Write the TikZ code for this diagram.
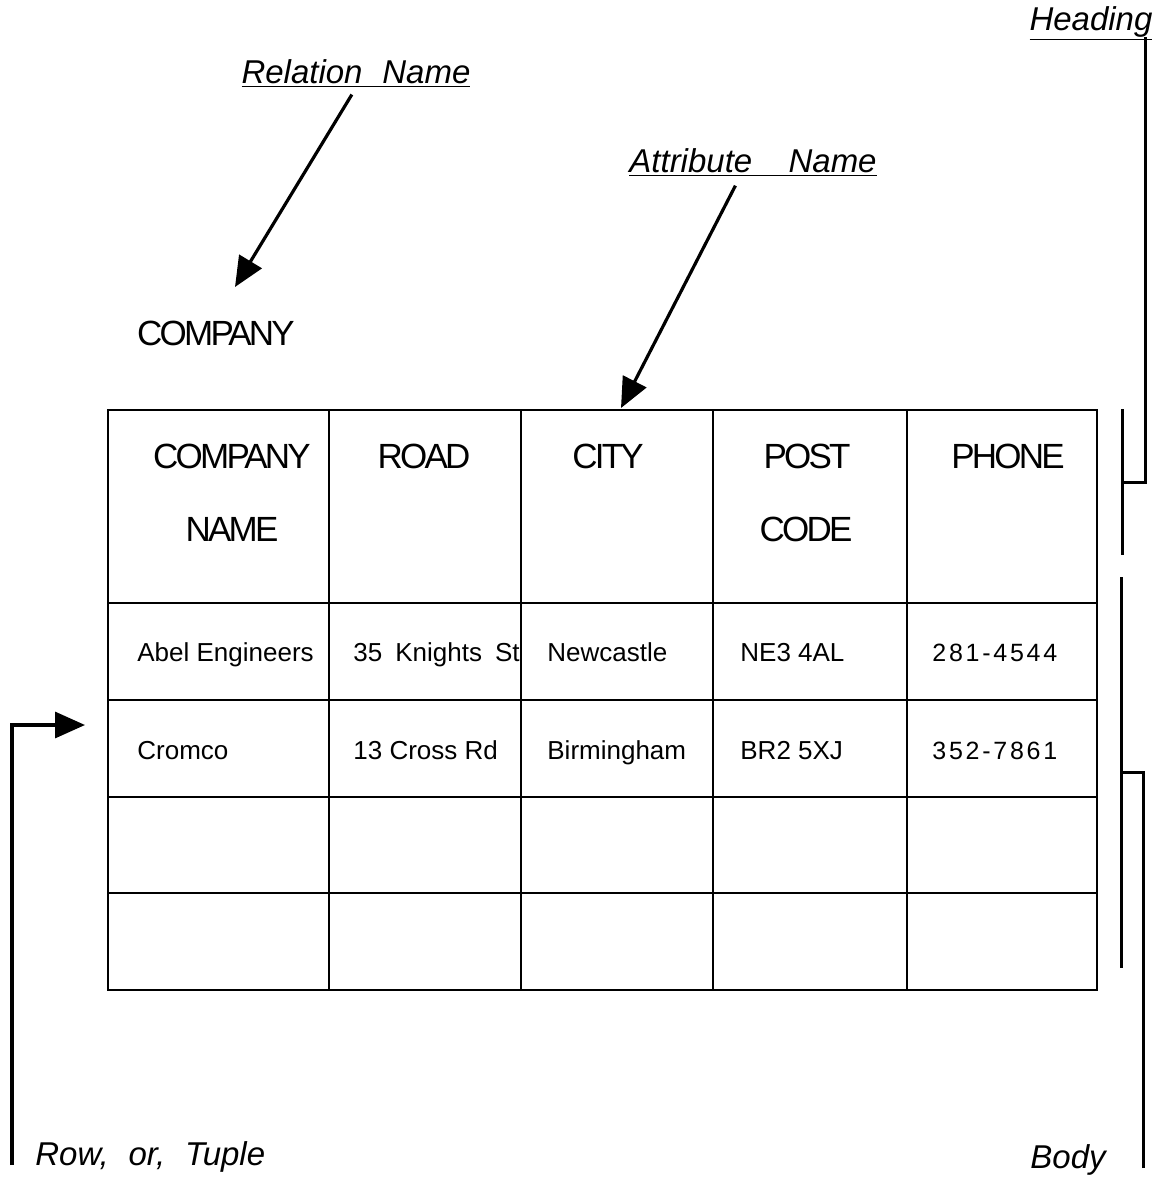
\documentclass[tikz,border=0pt]{standalone}
\usepackage{fontspec}
\setmainfont{Liberation Sans}
\newfontfamily\headfont[LetterSpace=-8]{Liberation Sans}
\newfontfamily\phonefont[LetterSpace=11]{Liberation Sans}
\usetikzlibrary{arrows.meta}

\begin{document}
\begin{tikzpicture}[
  x=0.5pt, y=-0.5pt,
  grid/.style={line width=1.3pt},
  leader/.style={line width=1.5pt},
  to/.style={-{Triangle[length=15pt,width=13pt]},line width=1.6pt},
  tag/.style={font=\fontsize{16.5}{19}\selectfont\itshape,inner sep=0,anchor=base},
  head/.style={font=\headfont\fontsize{17.5}{20}\selectfont,inner sep=0,anchor=base},
  cell/.style={font=\fontsize{13}{15}\selectfont,inner sep=0,anchor=base west},
  phone/.style={cell,font=\phonefont\fontsize{12.5}{15}\selectfont}]

  \useasboundingbox (0,0) rectangle (1174,1180);

  % Labels round the relation
  \node[tag] (relName) at (356,83) {\underline{Relation\hspace{0.6em}Name}};
  \node[tag] (attName) at (753,172) {\underline{Attribute\hspace{1.1em}Name}};
  \node[tag] (heading) at (1091,30) {\underline{Heading}};
  \node[tag,anchor=base west] (rowTag) at (35,1165) {Row,\hspace{0.6em}or,\hspace{0.6em}Tuple};
  \node[tag,anchor=base west] (bodyTag) at (1030,1168) {Body};
  \node[head] (relation) at (216,345) {COMPANY};

  % Heading of the table
  \node[head] (hCompany) at (232,468) {COMPANY};
  \node[head] (hName) at (232,541) {NAME};
  \node[head] (hRoad) at (424,468) {ROAD};
  \node[head] (hCity) at (608,468) {CITY};
  \node[head] (hPost) at (807,468) {POST};
  \node[head] (hCode) at (806,541) {CODE};
  \node[head] (hPhone) at (1008,468) {PHONE};

  % Body of the table
  \node[cell] (nameA) at (137,661) {Abel Engineers};
  \node[cell] (roadA) at (353,661) {35\hspace{0.5em}Knights\hspace{0.5em}St};
  \node[cell] (cityA) at (547,661) {Newcastle};
  \node[cell] (postA) at (740,661) {NE3 4AL};
  \node[phone] (phoneA) at (932,661) {281-4544};
  \node[cell] (nameB) at (137,759) {Cromco};
  \node[cell] (roadB) at (353,759) {13 Cross Rd};
  \node[cell] (cityB) at (547,759) {Birmingham};
  \node[cell] (postB) at (740,759) {BR2 5XJ};
  \node[phone] (phoneB) at (932,759) {352-7861};

  % Grid
  \draw[grid] (108,410) rectangle (1097,990);
  \foreach \x in {329,521,713,907}
    \draw[grid] (\x,410) -- (\x,990);
  \foreach \y in {603,700,797,893}
    \draw[grid] (108,\y) -- (1097,\y);

  % Ends of the connectors
  \coordinate (relTip) at (235,287);
  \coordinate (attTip) at (621,408);
  \coordinate (rowFoot) at (12,1165);
  \coordinate (rowTip) at (85,725);
  \coordinate (headTop) at (1145,37);
  \coordinate (headJoin) at (1122,482);
  \coordinate (headBrT) at (1122,409);
  \coordinate (headBrB) at (1122,555);
  \coordinate (bodyFoot) at (1143,1168);
  \coordinate (bodyJoin) at (1121,772);
  \coordinate (bodyBrT) at (1121,577);
  \coordinate (bodyBrB) at (1121,968);

  % Draw the arrows and brackets
  \draw[to,shorten <=4pt] (relName.south) -- (relTip);
  \draw[to,shorten <=5pt] ([xshift=-6.5pt]attName.south) -- (attTip);
  \draw[to] (rowFoot) |- (rowTip);
  \draw[leader] (headTop) |- (headJoin);
  \draw[leader] (headBrT) -- (headBrB);
  \draw[leader] (bodyFoot) |- (bodyJoin);
  \draw[leader] (bodyBrT) -- (bodyBrB);
\end{tikzpicture}
\end{document}
